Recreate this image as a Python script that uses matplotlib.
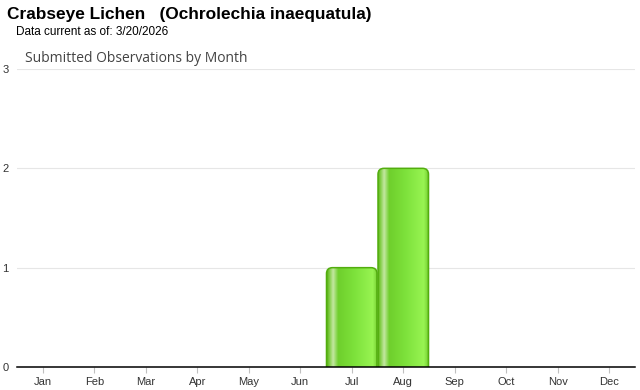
import matplotlib
matplotlib.use("Agg")
import matplotlib.pyplot as plt
import numpy as np
from matplotlib.patches import FancyBboxPatch
from matplotlib.colors import to_rgb

# chart data
months = ["Jan", "Feb", "Mar", "Apr", "May", "Jun",
          "Jul", "Aug", "Sep", "Oct", "Nov", "Dec"]
counts = [0, 0, 0, 0, 0, 0, 1, 2, 0, 0, 0, 0]
y_ticks = [0, 1, 2, 3]

title = "Crabseye Lichen   (Ochrolechia inaequatula)"
subtitle = "Data current as of: 3/20/2026"
chart_title = "Submitted Observations by Month"

W, H = 640, 390
fig = plt.figure(figsize=(W / 100, H / 100), dpi=100)
ax_l, ax_r, ax_b, ax_t = 17, 635, 367, 69
ax = fig.add_axes([ax_l / W, (H - ax_b) / H, (ax_r - ax_l) / W, (ax_b - ax_t) / H])

x = np.arange(len(months))

# horizontal gradient used for the bar fill
stops = [(0.00, "#5cb517"), (0.04, "#7ccb3e"), (0.12, "#c4e8a2"),
         (0.22, "#6fcf2c"), (0.55, "#7ee23c"), (0.90, "#98f452"),
         (0.97, "#7fd83a"), (1.00, "#55b012")]
n = 200
pos = np.linspace(0, 1, n)
grad = np.zeros((1, n, 3))
for c in range(3):
    grad[0, :, c] = np.interp(pos, [s[0] for s in stops],
                              [to_rgb(s[1])[c] for s in stops])

# pixel -> data scale for rounded corners
px_x = len(months) / (ax_r - ax_l)
px_y = 3 / (ax_b - ax_t)
bars = ax.bar(x, counts, width=1.0, color="none", edgecolor="none")
for rect, v in zip(bars, counts):
    if v <= 0:
        continue
    x0 = rect.get_x() + 0.5 * px_x
    w = rect.get_width() - 1.0 * px_x
    patch = FancyBboxPatch((x0, -0.2), w, v + 0.2,
                           boxstyle="round,pad=0,rounding_size=%f" % (6 * px_x),
                           mutation_aspect=px_y / px_x,
                           facecolor="none", edgecolor="#52ad0e", linewidth=1.1,
                           zorder=4)
    ax.add_patch(patch)
    im = ax.imshow(grad, extent=[x0, x0 + w, 0, v], aspect="auto",
                   interpolation="bilinear", zorder=3)
    im.set_clip_path(patch)

ax.set_aspect("auto")
ax.set_xlim(-0.5, len(months) - 0.5)
ax.set_ylim(0, 3)

# grid and axes styling
ax.set_yticks(y_ticks)
ax.set_yticklabels([str(t) for t in y_ticks])
ax.yaxis.grid(True, color="#e6e6e6", linewidth=0.8)
ax.set_axisbelow(True)
for s in ["top", "right", "left"]:
    ax.spines[s].set_visible(False)
ax.spines["bottom"].set_color("black")
ax.spines["bottom"].set_linewidth(1.1)
ax.spines["bottom"].set_zorder(5)

ax.set_xticks(x)
ax.set_xticklabels(months)
ax.tick_params(axis="x", length=4, color="#c0c0c0", pad=3, labelsize=8,
               labelcolor="#333333")
ax.tick_params(axis="y", length=0, pad=6, labelsize=8, labelcolor="#333333")
for lab in ax.get_xticklabels() + ax.get_yticklabels():
    lab.set_family("Liberation Sans")

fig.text(7 / W, 1 - 15 / H, title, fontsize=12.4, fontweight="bold",
         family="Liberation Sans", va="center", ha="left", color="black")
fig.text(16 / W, 1 - 32 / H, subtitle, fontsize=8.5,
         family="Liberation Sans", va="center", ha="left", color="black")
fig.text(25 / W, 1 - 58 / H, chart_title, fontsize=10,
         family="Open Sans", va="center", ha="left", color="#444444")

fig.savefig("out.png", dpi=100)
